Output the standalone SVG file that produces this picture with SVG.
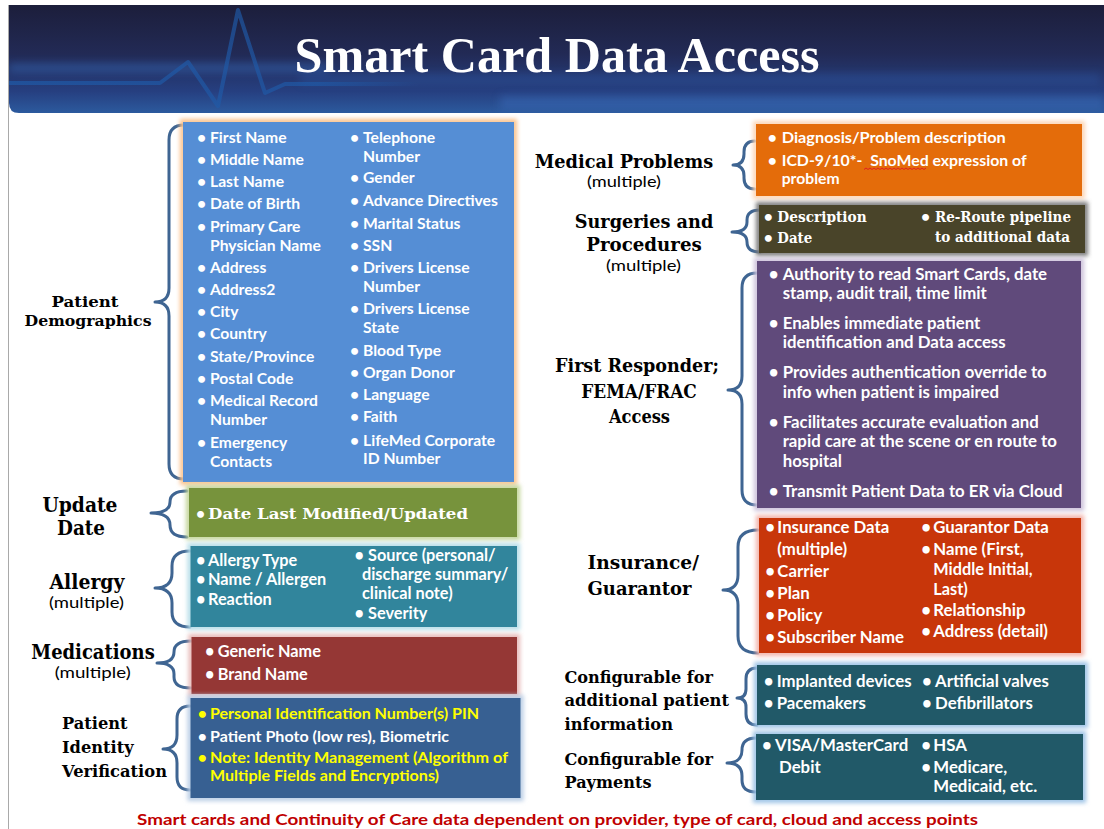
<svg xmlns="http://www.w3.org/2000/svg" width="1104" height="829" viewBox="0 0 1104 829">
  <defs>
    <linearGradient id="hdrGrad" x1="0" y1="0" x2="0" y2="1">
      <stop offset="0" stop-color="#1c1e3b"/>
      <stop offset="0.45" stop-color="#222a55"/>
      <stop offset="0.8" stop-color="#263f80"/>
      <stop offset="1" stop-color="#2c5a9e"/>
    </linearGradient>
    <linearGradient id="pulseFade" x1="0" y1="0" x2="1" y2="0">
      <stop offset="0" stop-color="#1f5aa8" stop-opacity="0.7"/>
      <stop offset="0.75" stop-color="#1f5aa8" stop-opacity="0.65"/>
      <stop offset="1" stop-color="#1f5aa8" stop-opacity="0"/>
    </linearGradient>
    <filter id="blur2" x="-10%" y="-50%" width="120%" height="200%">
      <feGaussianBlur stdDeviation="2"/>
    </filter>
    <filter id="blur4" x="-20%" y="-200%" width="140%" height="500%">
      <feGaussianBlur stdDeviation="4"/>
    </filter>
    <clipPath id="hdrClip">
      <path d="M9,5 H1104 V113 H19 Q9,113 9,103 Z"/>
    </clipPath>
  </defs>
  <style>
    .lbl { font-family: "DejaVu Serif", "Liberation Serif", serif; font-weight: bold; fill: #000; }
    .lbl-c { text-anchor: middle; }
    .mult { font-family: Lato, "Liberation Sans", sans-serif; font-size: 15px; fill: #000; text-anchor: middle; }
    .body { font-family: Lato, "Liberation Sans", sans-serif; font-weight: bold; font-size: 15.7px; fill: #fff; }
    .big { font-size: 16.8px; }
    .mid { font-size: 16.3px; }
    .serif { font-family: "DejaVu Serif", "Liberation Serif", serif; font-weight: bold; }
    .yel { fill: #ffff00; }
    .brace { fill: none; stroke: #3f6592; stroke-width: 3; stroke-linecap: round; stroke-linejoin: round; }
    .halo { fill: none; stroke-width: 6; filter: url(#blur2); }
    .pre { white-space: pre; }
  </style>

  <rect width="1104" height="829" fill="#ffffff"/>
  <!-- slide edge -->
  <line x1="8.5" y1="5" x2="8.5" y2="829" stroke="#a9a9a9" stroke-width="1"/>

  <!-- header banner -->
  <g id="header">
    <g clip-path="url(#hdrClip)">
      <rect x="9" y="5" width="1095" height="108" fill="url(#hdrGrad)"/>
      <rect x="9" y="64" width="320" height="8" fill="#3b74c8" opacity="0.45" filter="url(#blur4)"/>
      <rect x="300" y="74" width="800" height="10" fill="#2f5fae" opacity="0.35" filter="url(#blur4)"/>
      <rect x="500" y="96" width="604" height="14" fill="#3a6cb8" opacity="0.5" filter="url(#blur4)"/>
      <polyline points="9,83 160,83 188,62 218,106 238,10 265,93 285,84 420,84" fill="none" stroke="url(#pulseFade)" stroke-width="4" stroke-linejoin="round" stroke-linecap="round"/>
    </g>
    <text x="557" y="72" text-anchor="middle" font-family="'Liberation Serif', serif" font-weight="bold" font-size="50" fill="#ffffff" textLength="525" lengthAdjust="spacingAndGlyphs">Smart Card Data Access</text>
  </g>

  <!-- braces linking each heading to its box -->
  <g id="connectors">
    <path class="brace" d="M184,125 Q169,125 169,140 L169,288 Q169,302 155,302 Q169,302 169,316 L169,464 Q169,479 184,479"/>
    <path class="brace" d="M187,491 Q170,491 170,502 Q170,513 151,513 Q170,513 170,525 Q170,537 187,537"/>
    <path class="brace" d="M190,551 Q172,551 172,566 L172,573 Q172,588 155,588 Q172,588 172,603 L172,612 Q172,627 190,627"/>
    <path class="brace" d="M191,641 Q174,641 174,652 Q174,663 157,663 Q174,663 174,674 L174,677 Q174,688 191,688"/>
    <path class="brace" d="M190,706 Q177,706 177,719 L177,735 Q177,749 163,749 Q177,749 177,763 L177,777 Q177,790 190,790"/>
    <path class="brace" d="M755,141 Q744,141 744,152 L744,154 Q744,165 733,165 Q744,165 744,176 L744,178 Q744,189 755,189"/>
    <path class="brace" d="M760,210 Q747,210 747,220 L747,222 Q747,232 732,232 Q747,232 747,242 Q747,252 760,252"/>
    <path class="brace" d="M757,273 Q742,273 742,288 L742,376 Q742,390 728,390 Q742,390 742,404 L742,490 Q742,505 757,505"/>
    <path class="brace" d="M758,530 Q738,530 738,547 L738,575 Q738,590 723,590 Q738,590 738,605 L738,636 Q738,653 758,653"/>
    <path class="brace" d="M757,668 Q746,668 746,679 L746,689 Q746,698 737,698 Q746,698 746,707 L746,714 Q746,725 757,725"/>
    <path class="brace" d="M756,738 Q742,738 742,750 Q742,763 727,763 Q742,763 742,776 L742,780 Q742,792 756,792"/>
  </g>

  <!-- Patient Demographics -->
  <g id="patient-demographics">
    <text class="lbl lbl-c" font-size="15.5" x="85" y="307" textLength="67" lengthAdjust="spacingAndGlyphs">Patient</text>
    <text class="lbl lbl-c" font-size="15.5" x="88" y="326" textLength="127" lengthAdjust="spacingAndGlyphs">Demographics</text>
    <rect class="halo" x="183" y="122" width="331" height="360" stroke="#fbc28c"/>
    <rect x="183" y="122" width="331" height="360" fill="#558ed5"/>
    <text class="body"><tspan x="197" y="143">•</tspan><tspan x="210">First Name</tspan></text>
    <text class="body"><tspan x="197" y="165">•</tspan><tspan x="210">Middle Name</tspan></text>
    <text class="body"><tspan x="197" y="187">•</tspan><tspan x="210">Last Name</tspan></text>
    <text class="body"><tspan x="197" y="209">•</tspan><tspan x="210">Date of Birth</tspan></text>
    <text class="body"><tspan x="197" y="231.5">•</tspan><tspan x="210">Primary Care</tspan></text>
    <text class="body" x="210" y="251">Physician Name</text>
    <text class="body"><tspan x="197" y="273">•</tspan><tspan x="210">Address</tspan></text>
    <text class="body"><tspan x="197" y="295">•</tspan><tspan x="210">Address2</tspan></text>
    <text class="body"><tspan x="197" y="317">•</tspan><tspan x="210">City</tspan></text>
    <text class="body"><tspan x="197" y="339">•</tspan><tspan x="210">Country</tspan></text>
    <text class="body"><tspan x="197" y="361.5">•</tspan><tspan x="210">State/Province</tspan></text>
    <text class="body"><tspan x="197" y="384">•</tspan><tspan x="210">Postal Code</tspan></text>
    <text class="body"><tspan x="197" y="406">•</tspan><tspan x="210">Medical Record</tspan></text>
    <text class="body" x="210" y="425">Number</text>
    <text class="body"><tspan x="197" y="448">•</tspan><tspan x="210">Emergency</tspan></text>
    <text class="body" x="210" y="467">Contacts</text>

    <text class="body"><tspan x="350" y="143">•</tspan><tspan x="363">Telephone</tspan></text>
    <text class="body" x="363" y="161.5">Number</text>
    <text class="body"><tspan x="350" y="183">•</tspan><tspan x="363">Gender</tspan></text>
    <text class="body"><tspan x="350" y="205.5">•</tspan><tspan x="363">Advance Directives</tspan></text>
    <text class="body"><tspan x="350" y="229">•</tspan><tspan x="363">Marital Status</tspan></text>
    <text class="body"><tspan x="350" y="251">•</tspan><tspan x="363">SSN</tspan></text>
    <text class="body"><tspan x="350" y="273">•</tspan><tspan x="363">Drivers License</tspan></text>
    <text class="body" x="363" y="291.5">Number</text>
    <text class="body"><tspan x="350" y="314">•</tspan><tspan x="363">Drivers License</tspan></text>
    <text class="body" x="363" y="333">State</text>
    <text class="body"><tspan x="350" y="355.5">•</tspan><tspan x="363">Blood Type</tspan></text>
    <text class="body"><tspan x="350" y="378">•</tspan><tspan x="363">Organ Donor</tspan></text>
    <text class="body"><tspan x="350" y="400">•</tspan><tspan x="363">Language</tspan></text>
    <text class="body"><tspan x="350" y="422">•</tspan><tspan x="363">Faith</tspan></text>
    <text class="body"><tspan x="350" y="445.5">•</tspan><tspan x="363">LifeMed Corporate</tspan></text>
    <text class="body" x="363" y="464">ID Number</text>
  </g>

  <!-- Update Date -->
  <g id="update-date">
    <text class="lbl lbl-c" font-size="20.5" x="80" y="512" textLength="75" lengthAdjust="spacingAndGlyphs">Update</text>
    <text class="lbl lbl-c" font-size="20.5" x="81" y="535" textLength="48" lengthAdjust="spacingAndGlyphs">Date</text>
    <rect class="halo" x="189" y="488" width="328" height="49" stroke="#c3d59a"/>
    <rect x="189" y="488" width="328" height="49" fill="#77933c"/>
    <text class="body" font-size="16"><tspan x="196" y="518.5">•</tspan></text>
    <text class="body serif" font-size="16" x="208" y="518.5" textLength="260" lengthAdjust="spacingAndGlyphs">Date Last Modified/Updated</text>
  </g>

  <!-- Allergy -->
  <g id="allergy">
    <text class="lbl lbl-c" font-size="20.5" x="87" y="589" textLength="75" lengthAdjust="spacingAndGlyphs">Allergy</text>
    <text class="mult" x="86.5" y="608" textLength="75" lengthAdjust="spacingAndGlyphs">(multiple)</text>
    <rect class="halo" x="190.5" y="546" width="326.5" height="81" stroke="#b6dde8"/>
    <rect x="190.5" y="546" width="326.5" height="81" fill="#31859c"/>
    <text class="body mid"><tspan x="196" y="566">•</tspan><tspan x="208">Allergy Type</tspan></text>
    <text class="body mid"><tspan x="196" y="585">•</tspan><tspan x="208">Name / Allergen</tspan></text>
    <text class="body mid"><tspan x="196" y="604.5">•</tspan><tspan x="208">Reaction</tspan></text>
    <text class="body mid"><tspan x="354.5" y="561">•</tspan><tspan x="368">Source (personal/</tspan></text>
    <text class="body mid" x="362" y="580">discharge summary/</text>
    <text class="body mid" x="362" y="598.5">clinical note)</text>
    <text class="body mid"><tspan x="354.5" y="618.5">•</tspan><tspan x="368">Severity</tspan></text>
  </g>

  <!-- Medications -->
  <g id="medications">
    <text class="lbl lbl-c" font-size="20.5" x="93" y="658.5" textLength="123.5" lengthAdjust="spacingAndGlyphs">Medications</text>
    <text class="mult" x="92.7" y="677.5" textLength="76" lengthAdjust="spacingAndGlyphs">(multiple)</text>
    <rect class="halo" x="191.5" y="637" width="325.5" height="57" stroke="#e6b9b8"/>
    <rect x="191.5" y="637" width="325.5" height="57" fill="#953735"/>
    <text class="body mid"><tspan x="205" y="656.7">•</tspan><tspan x="217.7">Generic Name</tspan></text>
    <text class="body mid"><tspan x="205" y="680">•</tspan><tspan x="217.7">Brand Name</tspan></text>
  </g>

  <!-- Patient Identity Verification -->
  <g id="patient-identity">
    <text class="lbl" font-size="17" x="62" y="729.3" textLength="65.6" lengthAdjust="spacingAndGlyphs">Patient</text>
    <text class="lbl" font-size="17" x="62" y="753.3" textLength="71.7" lengthAdjust="spacingAndGlyphs">Identity</text>
    <text class="lbl" font-size="17" x="62" y="777.3" textLength="105" lengthAdjust="spacingAndGlyphs">Verification</text>
    <rect class="halo" x="190.5" y="698" width="330" height="100" stroke="#b9cde5"/>
    <rect x="190.5" y="698" width="330" height="100" fill="#376092"/>
    <text class="body yel" font-size="15"><tspan x="197.7" y="719.3">•</tspan><tspan x="210" textLength="269" lengthAdjust="spacingAndGlyphs">Personal Identification Number(s) PIN</tspan></text>
    <text class="body" font-size="15"><tspan x="197.7" y="741.7">•</tspan><tspan x="210" textLength="239" lengthAdjust="spacingAndGlyphs">Patient Photo (low res), Biometric</tspan></text>
    <text class="body yel" font-size="15"><tspan x="197.7" y="762.7">•</tspan><tspan x="210" textLength="298" lengthAdjust="spacingAndGlyphs">Note: Identity Management (Algorithm of</tspan></text>
    <text class="body yel" font-size="15" x="210" y="780.5" textLength="229" lengthAdjust="spacingAndGlyphs">Multiple Fields and Encryptions)</text>
  </g>

  <!-- Medical Problems -->
  <g id="medical-problems">
    <text class="lbl lbl-c" font-size="18" x="624" y="168" textLength="178.5" lengthAdjust="spacingAndGlyphs">Medical Problems</text>
    <text class="mult" x="624" y="187" textLength="74" lengthAdjust="spacingAndGlyphs">(multiple)</text>
    <rect class="halo" x="756" y="124" width="326" height="72" stroke="#fcd5b5"/>
    <rect x="756" y="124" width="326" height="72" fill="#e46c0a"/>
    <text class="body" font-size="15.5"><tspan x="767.7" y="143.3">•</tspan><tspan x="781.7" textLength="224" lengthAdjust="spacingAndGlyphs">Diagnosis/Problem description</tspan></text>
    <text class="body pre" font-size="15.5"><tspan x="767.7" y="165.7">•</tspan><tspan x="781.7" textLength="245" lengthAdjust="spacingAndGlyphs">ICD-9/10*-  SnoMed expression of</tspan></text>
    <text class="body" font-size="15.5" x="781.7" y="184">problem</text>
    <path d="M864,169.5 l2,-1.5 l2,1.5 l2,-1.5 l2,1.5 l2,-1.5 l2,1.5 l2,-1.5 l2,1.5 l2,-1.5 l2,1.5 l2,-1.5 l2,1.5 l2,-1.5 l2,1.5 l2,-1.5 l2,1.5 l2,-1.5 l2,1.5 l2,-1.5 l2,1.5 l2,-1.5 l2,1.5 l2,-1.5 l2,1.5 l2,-1.5 l2,1.5 l2,-1.5 l2,1.5 l2,-1.5 l2,1.5 l2,-1.5" fill="none" stroke="#e02020" stroke-width="1"/>
  </g>

  <!-- Surgeries and Procedures -->
  <g id="surgeries">
    <text class="lbl lbl-c" font-size="18.5" x="644" y="228" textLength="138.5" lengthAdjust="spacingAndGlyphs">Surgeries and</text>
    <text class="lbl lbl-c" font-size="18.5" x="644" y="251" textLength="115.5" lengthAdjust="spacingAndGlyphs">Procedures</text>
    <text class="mult" x="643.5" y="271" textLength="75" lengthAdjust="spacingAndGlyphs">(multiple)</text>
    <rect class="halo" x="759" y="205" width="326" height="48" stroke="#7a7a7a"/>
    <rect x="759" y="205" width="326" height="48" fill="#494429"/>
    <text class="body" font-size="15"><tspan x="763.7" y="222.3">•</tspan><tspan x="763.7" y="243.3">•</tspan><tspan x="921" y="222.3">•</tspan></text>
    <text class="body serif" font-size="15" x="777.3" y="222.3" textLength="89.4" lengthAdjust="spacingAndGlyphs">Description</text>
    <text class="body serif" font-size="15" x="777.3" y="243.3" textLength="35" lengthAdjust="spacingAndGlyphs">Date</text>
    <text class="body serif" font-size="15" x="935" y="222.3" textLength="136" lengthAdjust="spacingAndGlyphs">Re-Route pipeline</text>
    <text class="body serif" font-size="15" x="935" y="241.5" textLength="135" lengthAdjust="spacingAndGlyphs">to additional data</text>
  </g>

  <!-- First Responder / FEMA / FRAC Access -->
  <g id="first-responder">
    <text class="lbl lbl-c" font-size="18.5" x="637" y="372" textLength="164" lengthAdjust="spacingAndGlyphs">First Responder;</text>
    <text class="lbl lbl-c" font-size="18.5" x="639" y="398" textLength="115.5" lengthAdjust="spacingAndGlyphs">FEMA/FRAC</text>
    <text class="lbl lbl-c" font-size="18.5" x="639.5" y="423" textLength="61" lengthAdjust="spacingAndGlyphs">Access</text>
    <rect class="halo" x="757" y="261" width="324" height="247" stroke="#ccc1da"/>
    <rect x="757" y="261" width="324" height="247" fill="#604a7b"/>
    <text class="body big"><tspan x="768.7" y="280">•</tspan><tspan x="782.7">Authority to read Smart Cards, date</tspan></text>
    <text class="body big" x="782.7" y="299.3">stamp, audit trail, time limit</text>
    <text class="body big"><tspan x="768.7" y="329.3">•</tspan><tspan x="782.7">Enables immediate patient</tspan></text>
    <text class="body big" x="782.7" y="348.3">identification and Data access</text>
    <text class="body big"><tspan x="768.7" y="378.3">•</tspan><tspan x="782.7">Provides authentication override to</tspan></text>
    <text class="body big" x="782.7" y="397.7">info when patient is impaired</text>
    <text class="body big"><tspan x="768.7" y="427.7">•</tspan><tspan x="782.7">Facilitates accurate evaluation and</tspan></text>
    <text class="body big" x="782.7" y="447.3">rapid care at the scene or en route to</text>
    <text class="body big" x="782.7" y="466.7">hospital</text>
    <text class="body big"><tspan x="768.7" y="496.7">•</tspan><tspan x="782.7">Transmit Patient Data to ER via Cloud</tspan></text>
  </g>

  <!-- Insurance / Guarantor -->
  <g id="insurance">
    <text class="lbl" font-size="18.5" x="587.5" y="569" textLength="111.5" lengthAdjust="spacingAndGlyphs">Insurance/</text>
    <text class="lbl" font-size="18.5" x="587.5" y="595" textLength="104" lengthAdjust="spacingAndGlyphs">Guarantor</text>
    <rect class="halo" x="759" y="518" width="322" height="135" stroke="#f2b3aa"/>
    <rect x="759" y="518" width="322" height="135" fill="#c8360a"/>
    <text class="body big"><tspan x="765.3" y="533.3">•</tspan><tspan x="777.3">Insurance Data</tspan></text>
    <text class="body big" x="777.3" y="554.5">(multiple)</text>
    <text class="body big"><tspan x="765.3" y="576.7">•</tspan><tspan x="777.3">Carrier</tspan></text>
    <text class="body big"><tspan x="765.3" y="599">•</tspan><tspan x="777.3">Plan</tspan></text>
    <text class="body big"><tspan x="765.3" y="621">•</tspan><tspan x="777.3">Policy</tspan></text>
    <text class="body big"><tspan x="765.3" y="642.7">•</tspan><tspan x="777.3">Subscriber Name</tspan></text>
    <text class="body big"><tspan x="921.3" y="533.3">•</tspan><tspan x="933.3">Guarantor Data</tspan></text>
    <text class="body big"><tspan x="921.3" y="555">•</tspan><tspan x="933.3">Name (First,</tspan></text>
    <text class="body mid" x="933.3" y="575">Middle Initial,</text>
    <text class="body mid" x="933.3" y="594.5">Last)</text>
    <text class="body big"><tspan x="921.3" y="615.5">•</tspan><tspan x="933.3">Relationship</tspan></text>
    <text class="body big"><tspan x="921.3" y="637.3">•</tspan><tspan x="933.3">Address (detail)</tspan></text>
  </g>

  <!-- Configurable for additional patient information -->
  <g id="config-patient-info">
    <text class="lbl" font-size="17" x="564.5" y="683" textLength="148.5" lengthAdjust="spacingAndGlyphs">Configurable  for</text>
    <text class="lbl" font-size="17" x="564.5" y="706" textLength="164.5" lengthAdjust="spacingAndGlyphs">additional patient</text>
    <text class="lbl" font-size="17" x="564.5" y="730" textLength="108.5" lengthAdjust="spacingAndGlyphs">information</text>
    <rect class="halo" x="757" y="665" width="328" height="60" stroke="#9dc3e6"/>
    <rect x="757" y="665" width="328" height="60" fill="#215968"/>
    <text class="body big"><tspan x="763.7" y="686.7">•</tspan><tspan x="776.7">Implanted devices</tspan></text>
    <text class="body big"><tspan x="763.7" y="709">•</tspan><tspan x="776.7">Pacemakers</tspan></text>
    <text class="body big"><tspan x="922" y="686.7">•</tspan><tspan x="935">Artificial valves</tspan></text>
    <text class="body big"><tspan x="922" y="709">•</tspan><tspan x="935">Defibrillators</tspan></text>
  </g>

  <!-- Configurable for Payments -->
  <g id="config-payments">
    <text class="lbl" font-size="17" x="564.5" y="765" textLength="148.5" lengthAdjust="spacingAndGlyphs">Configurable  for</text>
    <text class="lbl" font-size="17" x="564.5" y="788" textLength="87" lengthAdjust="spacingAndGlyphs">Payments</text>
    <rect class="halo" x="756" y="734" width="327" height="66" stroke="#9dc3e6"/>
    <rect x="756" y="734" width="327" height="66" fill="#215968"/>
    <text class="body big"><tspan x="762" y="750.7">•</tspan><tspan x="775">VISA/MasterCard</tspan></text>
    <text class="body big" x="779" y="773.3">Debit</text>
    <text class="body big"><tspan x="921.3" y="750.7">•</tspan><tspan x="933.3">HSA</tspan></text>
    <text class="body big"><tspan x="921.3" y="773.3">•</tspan><tspan x="933.3">Medicare,</tspan></text>
    <text class="body big" x="933.3" y="792.3">Medicaid, etc.</text>
  </g>

  <!-- footnote -->
  <text x="557.5" y="825" text-anchor="middle" font-family="Lato, 'Liberation Sans', sans-serif" font-weight="bold" font-size="16" fill="#c00000" textLength="841" lengthAdjust="spacingAndGlyphs">Smart cards and Continuity of Care data dependent on provider, type of card, cloud and access points</text>
</svg>
